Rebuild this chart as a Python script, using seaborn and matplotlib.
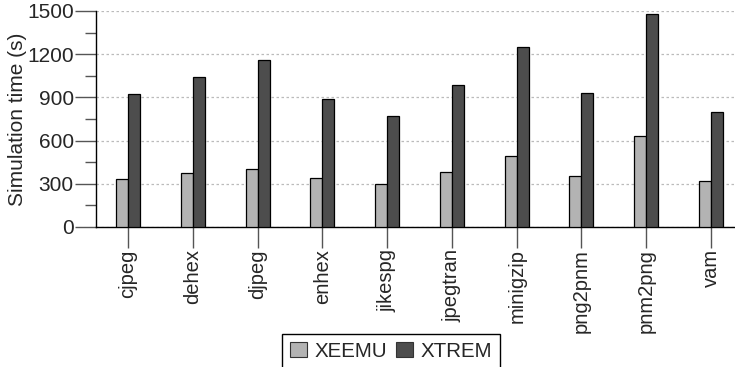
import matplotlib
matplotlib.use("Agg")
import matplotlib.pyplot as plt
import seaborn as sns
import pandas as pd
from matplotlib.ticker import MultipleLocator

benchmarks = ["cjpeg", "dehex", "djpeg", "enhex", "jikespg", "jpegtran",
              "minigzip", "png2pnm", "pnm2png", "vam"]
xeemu = [331, 373, 400, 343, 299, 382, 491, 351, 632, 317]
xtrem = [921, 1042, 1157, 887, 771, 984, 1250, 933, 1477, 799]
systems = ["XEEMU", "XTREM"]
colors = ["#b3b3b3", "#4d4d4d"]
yticks = [0, 300, 600, 900, 1200, 1500]

df = pd.DataFrame({
    "benchmark": benchmarks * 2,
    "system": [systems[0]] * len(benchmarks) + [systems[1]] * len(benchmarks),
    "time": xeemu + xtrem,
})

sns.set_theme(style="white")
plt.rcParams["font.family"] = ["Liberation Sans", "DejaVu Sans"]

fig = plt.figure(figsize=(7.35, 3.67), dpi=100)
ax = fig.add_axes([96 / 735, 1 - 227 / 367, 1 - 96 / 735, (227 - 11) / 367])

sns.barplot(data=df, x="benchmark", y="time", hue="system", order=benchmarks,
            hue_order=systems, palette=colors, width=0.37, gap=0,
            edgecolor="black", linewidth=0.9, ax=ax, legend=False, zorder=3)

ax.set_xlim(-0.494, 9.37)
ax.set_ylim(0, 1500)
ax.set_yticks(yticks)
ax.yaxis.set_minor_locator(MultipleLocator(150))
ax.grid(axis="y", which="major", color="#bbbbbb", linestyle=(0, (2, 2)),
        linewidth=0.9, zorder=0)
ax.set_axisbelow(True)

for side in ("top", "right"):
    ax.spines[side].set_visible(False)
for side in ("left", "bottom"):
    ax.spines[side].set_color("black")
    ax.spines[side].set_linewidth(1.0)

ax.tick_params(axis="y", which="major", direction="out", length=15, width=1,
               color="#555555", labelsize=15, pad=1, left=True)
ax.tick_params(axis="y", which="minor", direction="out", length=8, width=1,
               color="#555555", left=True)
ax.tick_params(axis="x", which="major", direction="out", length=15, width=1,
               color="#555555", labelsize=14.5, pad=1, bottom=True,
               labelrotation=90)
for lbl in ax.get_xticklabels():
    lbl.set_verticalalignment("top")

ax.set_xlabel("")
ax.set_ylabel("Simulation time (s)", fontsize=15, labelpad=0)

handles = [plt.Rectangle((0, 0), 1, 1, facecolor=c, edgecolor="#333333",
                         linewidth=0.8) for c in colors]
leg = fig.legend(handles, systems, loc="center", bbox_to_anchor=(391 / 735, 1 - 351.5 / 367),
                 ncol=2, fontsize=14.8, frameon=True, fancybox=False,
                 framealpha=1, edgecolor="black", handlelength=0.8,
                 handleheight=0.75, handletextpad=0.37, columnspacing=0.45,
                 borderpad=0.4, borderaxespad=0)
leg.get_frame().set_linewidth(1.0)

fig.savefig("out.png", dpi=100)
